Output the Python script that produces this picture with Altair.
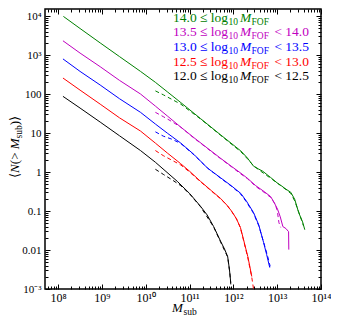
import altair as alt
import pandas as pd

# ---- data (log10 values) ----
series = ["12.0", "12.5", "13.0", "13.5", "14.0"]
colors = ["#000000", "#ff0000", "#0000ff", "#bf00bf", "#008000"]

# solid curves: log10 M_sub, log10 <N(>M_sub)>
black_lx = [8.11, 8.5, 8.96, 9.4, 9.88, 10.22, 10.72, 11.0, 11.25, 11.4, 11.55, 11.71, 11.8, 11.87, 11.91, 11.94]
black_ly = [1.94, 1.64, 1.28, 0.93, 0.55, 0.25, -0.24, -0.55, -0.88, -1.10, -1.40, -1.78, -1.98, -2.17, -2.50, -2.84]
red_lx = [8.11, 8.5, 8.96, 9.4, 9.88, 10.22, 10.5, 10.79, 11.0, 11.25, 11.5, 11.71, 11.86, 11.97, 12.07, 12.16, 12.22, 12.28, 12.33, 12.38, 12.42]
red_ly = [2.41, 2.10, 1.74, 1.39, 1.05, 0.74, 0.48, 0.22, 0.02, -0.24, -0.48, -0.68, -0.86, -1.02, -1.20, -1.42, -1.68, -1.95, -2.17, -2.45, -2.68]
blue_lx = [8.11, 8.5, 8.96, 9.4, 9.88, 10.22, 10.5, 10.79, 11.1, 11.41, 11.71, 11.95, 12.17, 12.3, 12.46, 12.58, 12.69, 12.76, 12.83]
blue_ly = [2.90, 2.58, 2.23, 1.88, 1.53, 1.23, 0.99, 0.75, 0.45, 0.10, -0.15, -0.35, -0.55, -0.75, -1.04, -1.36, -1.81, -2.12, -2.45]
mag_lx = [8.11, 8.5, 8.96, 9.4, 9.88, 10.22, 10.5, 10.79, 11.1, 11.41, 11.71, 11.95, 12.17, 12.32, 12.51, 12.7, 12.85, 12.93, 13.01, 13.07, 13.13, 13.2, 13.26, 13.265]
mag_ly = [3.365, 3.05, 2.70, 2.35, 2.0, 1.69, 1.43, 1.16, 0.88, 0.61, 0.35, 0.15, -0.03, -0.16, -0.35, -0.50, -0.63, -0.78, -0.96, -1.15, -1.40, -1.45, -1.53, -1.99]
green_lx = [8.12, 8.5, 8.96, 9.4, 9.88, 10.22, 10.5, 10.8, 11.25, 11.7, 12.17, 12.32, 12.46, 12.57, 12.67, 12.85, 13.0, 13.08, 13.2, 13.31, 13.4, 13.49, 13.58, 13.63]
green_ly = [3.99, 3.68, 3.31, 2.96, 2.58, 2.30, 2.05, 1.78, 1.37, 0.96, 0.54, 0.36, 0.15, 0.08, 0.02, -0.14, -0.28, -0.34, -0.44, -0.52, -0.70, -1.04, -1.28, -1.48]

# dashed curves (fits)
black_dlx = [10.22, 10.4, 10.6, 10.8, 11.0, 11.25, 11.55, 11.71, 11.87, 11.92, 11.95]
black_dly = [0.07, -0.06, -0.20, -0.35, -0.56, -0.89, -1.41, -1.80, -2.18, -2.60, -3.0]
red_dlx = [10.22, 10.4, 10.6, 10.8, 11.0, 11.25, 11.5, 11.71, 11.86, 11.97, 12.07, 12.16, 12.22, 12.33, 12.42, 12.46]
red_dly = [0.55, 0.42, 0.30, 0.18, 0.0, -0.25, -0.49, -0.69, -0.86, -1.03, -1.20, -1.43, -1.70, -2.20, -2.70, -3.0]
blue_dlx = [10.22, 10.4, 10.6, 10.8, 11.1, 11.41, 11.71, 11.95, 12.17, 12.3, 12.46, 12.58, 12.69, 12.78, 12.84]
blue_dly = [1.03, 0.92, 0.84, 0.73, 0.44, 0.10, -0.16, -0.36, -0.57, -0.77, -1.06, -1.38, -1.80, -2.15, -2.42]
mag_dlx = [10.22, 10.4, 10.6, 10.8, 11.1, 11.41, 11.71, 11.95, 12.17, 12.32, 12.51, 12.7, 12.85, 12.95, 13.0, 13.04, 13.08]
mag_dly = [1.53, 1.42, 1.29, 1.15, 0.87, 0.60, 0.34, 0.14, -0.05, -0.17, -0.37, -0.52, -0.65, -0.82, -0.98, -1.30, -1.42]
green_dlx = [10.22, 10.4, 10.6, 10.8, 11.25, 11.7, 12.17, 12.32, 12.46, 12.6, 12.75, 12.9, 13.08, 13.2, 13.31, 13.4, 13.49, 13.6]
green_dly = [2.08, 1.98, 1.86, 1.74, 1.36, 0.95, 0.52, 0.34, 0.16, 0.04, -0.08, -0.20, -0.35, -0.45, -0.55, -0.74, -1.02, -1.38]

legend_rows = [("14.0", None), ("13.5", "14.0"), ("13.0", "13.5"), ("12.5", "13.0"), ("12.0", "12.5")]
legend_colors = ["#008000", "#bf00bf", "#0000ff", "#ff0000", "#000000"]

x_exps = [8, 9, 10, 11, 12, 13, 14]
y_labels = {-3: "10⁻³", -2: "0.01", -1: "0.1", 0: "1", 1: "10", 2: "100", 3: "10³", 4: "10⁴"}

# ---- build table ----
curves = {
    "12.0": (black_lx, black_ly, black_dlx, black_dly),
    "12.5": (red_lx, red_ly, red_dlx, red_dly),
    "13.0": (blue_lx, blue_ly, blue_dlx, blue_dly),
    "13.5": (mag_lx, mag_ly, mag_dlx, mag_dly),
    "14.0": (green_lx, green_ly, green_dlx, green_dly),
}
rows = []
for s, (lx, ly, dlx, dly) in curves.items():
    for i, (a, b) in enumerate(zip(lx, ly)):
        rows.append({"series": s, "kind": "solid", "i": i, "M": 10 ** a, "N": 10 ** b})
    for i, (a, b) in enumerate(zip(dlx, dly)):
        rows.append({"series": s, "kind": "dashed", "i": i, "M": 10 ** a, "N": 10 ** b})
df = pd.DataFrame(rows)

SERIF = "Liberation Serif"
sup = str.maketrans("0123456789-", "⁰¹²³⁴⁵⁶⁷⁸⁹⁻")
x_expr = " : ".join(f"round(log(datum.value)/LN10) == {e} ? '10{str(e).translate(sup)}'" for e in x_exps) + " : ''"
y_expr = " : ".join(f"round(log(datum.value)/LN10) == {e} ? '{t}'" for e, t in y_labels.items()) + " : ''"

xdom = [10 ** 7.7, 1e14]
ydom = [1e-3, 10 ** 4.18]
x_scale = alt.Scale(type="log", domain=xdom, nice=False)
y_scale = alt.Scale(type="log", domain=ydom, nice=False)

x_major = [10.0 ** e for e in x_exps]
x_minor = [k * 10.0 ** d for d in range(7, 14) for k in range(2, 10) if xdom[0] <= k * 10.0 ** d <= xdom[1]]
y_major = [10.0 ** e for e in range(-3, 5)]
y_minor = [k * 10.0 ** d for d in range(-3, 5) for k in range(2, 10) if ydom[0] <= k * 10.0 ** d <= ydom[1]]

col_scale = alt.Scale(domain=series, range=colors)

solid = alt.Chart(df).transform_filter(alt.datum.kind == "solid").mark_line(strokeWidth=1.0, clip=True).encode(
    x=alt.X("M:Q", scale=x_scale, axis=None),
    y=alt.Y("N:Q", scale=y_scale, axis=None),
    color=alt.Color("series:N", scale=col_scale, legend=None),
    order="i:Q",
)
dashed = alt.Chart(df).transform_filter(alt.datum.kind == "dashed").mark_line(strokeWidth=1.0, strokeDash=[4, 3], clip=True).encode(
    x=alt.X("M:Q", scale=x_scale, axis=None),
    y=alt.Y("N:Q", scale=y_scale, axis=None),
    color=alt.Color("series:N", scale=col_scale, legend=None),
    order="i:Q",
)


def ax(orient, values, size, labels=False, expr=None, pad=3, fsize=11):
    kw = dict(orient=orient, values=values, tickSize=size, offset=-size, domain=False, grid=False,
              tickColor="black", tickWidth=1, title=None, labels=labels)
    if labels:
        kw.update(labelExpr=expr, labelFont=SERIF, labelFontSize=fsize, labelColor="black",
                  labelPadding=pad, labelFlush=False, labelOverlap=False)
    return alt.Axis(**kw)


def axis_layer(xa, ya):
    return alt.Chart(df).mark_point(opacity=0, size=0).encode(
        x=alt.X("M:Q", scale=x_scale, axis=xa),
        y=alt.Y("N:Q", scale=y_scale, axis=ya),
    )


axes = [
    axis_layer(ax("bottom", x_major, 5, True, x_expr, 3, 12), ax("left", y_major, 5, True, y_expr, 4, 11)),
    axis_layer(ax("bottom", x_minor, 3), ax("left", y_minor, 3)),
    axis_layer(ax("top", x_major, 5), ax("right", y_major, 5)),
    axis_layer(ax("top", x_minor, 3), ax("right", y_minor, 3)),
]

one = pd.DataFrame({"a": [0]})


def txt(text, x, y, size=13.5, color="black", style="normal", align="left", angle=0):
    return alt.Chart(one).mark_text(text=text, font=SERIF, fontSize=size, color=color, fontStyle=style,
                                    align=align, baseline="alphabetic", angle=angle).encode(
        x=alt.value(x), y=alt.value(y))


texts = []
for i, ((lo, hi), c) in enumerate(zip(legend_rows, legend_colors)):
    yb = 12.8 + 14.6 * i
    texts.append(txt(f"{lo} ≤ log", 128, yb, color=c))
    texts.append(txt("10", 183.5, yb + 3, size=9.5, color=c))
    texts.append(txt("M", 195, yb, color=c, style="italic"))
    texts.append(txt("FOF", 206.5, yb + 3, size=9.5, color=c))
    if hi:
        texts.append(txt(f"< {hi}", 264, yb, color=c, align="right"))

# axis titles
texts.append(txt("M", 127, 303, size=13, style="italic"))
texts.append(txt("sub", 138.5, 306, size=9.5))
bx = -26
texts.append(txt("⟨", bx, 169, size=13, angle=270))
texts.append(txt("N", bx, 163.9, size=13, style="italic", angle=270))
texts.append(txt("(> ", bx, 155.2, size=13, angle=270))
texts.append(txt("M", bx, 140.3, size=13, style="italic", angle=270))
texts.append(txt("sub", bx + 3, 129.5, size=9.5, angle=270))
texts.append(txt(")⟩", bx, 116.3, size=13, angle=270))

chart = alt.layer(solid, dashed, *axes, *texts).resolve_axis(x="independent", y="independent").properties(
    width=276, height=280,
    autosize=alt.AutoSizeParams(type="none"),
    padding={"left": 37, "top": 1, "right": 10, "bottom": 30},
).configure_view(stroke="black", strokeWidth=1.5)

chart.save("out.html", embed_options={"renderer": "svg", "actions": False})
